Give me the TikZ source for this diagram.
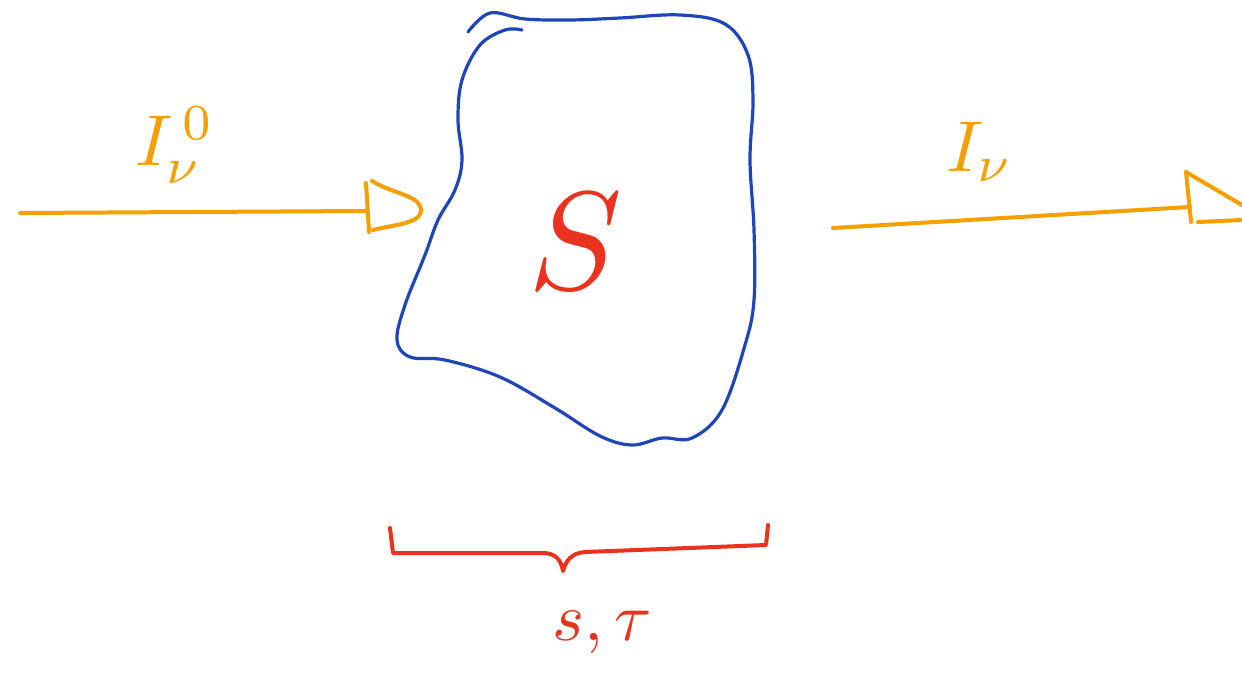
\documentclass[tikz,border=0pt]{standalone}
\begin{document}
\begin{tikzpicture}[x=0.5pt,y=-0.5pt,line cap=round,line join=round]
\definecolor{pen-orange}{RGB}{245,160,0}
\definecolor{pen-blue}{RGB}{30,70,185}
\definecolor{pen-red}{RGB}{235,50,30}
\tikzset{
  orangepen/.style={draw=pen-orange,line width=2pt},
  bluepen/.style={draw=pen-blue,line width=1.6pt},
  redpen/.style={draw=pen-red,line width=2pt},
  lbl/.style={text=pen-orange,inner sep=0pt},
  rlbl/.style={text=pen-red,inner sep=0pt},
}
\useasboundingbox (0,0) rectangle (1242,674);
% blob
\draw[bluepen] plot[smooth,tension=0.6] coordinates {
 (468,32) (490,13) (525,19) (570,20) (620,18) (680,15) (725,24) (748,55) (753,100)
 (750,160) (754,230) (754,300) (745,345) (722,410) (692,438) (662,438) (632,445)
 (600,436) (555,408) (500,377) (445,360) (410,357) (397,340) (405,305) (425,255)
 (438,220) (455,190) (462,160) (458,120) (462,80) (480,45) (505,30) (522,30)};
% left arrow
\coordinate (la) at (20,213);
\coordinate (lb) at (367,211);
\draw[orangepen] (la) -- (lb);
\draw[orangepen] (366,183) -- (369,232);
\draw[orangepen] (372,181) .. controls (395,195) and (422,195) .. (421,212)
  .. controls (418,224) and (392,225) .. (373,230);
% right arrow
\coordinate (ra) at (833,228);
\coordinate (rb) at (1190,207);
\draw[orangepen] (ra) -- (rb);
\draw[orangepen] (1186,172) -- (1191,222);
\draw[orangepen] (1186,172) -- (1242,205);
\draw[orangepen] (1198,222) -- (1242,220);
% labels
\node[lbl] (i0) at (175,145) {\scalebox{3.6}{$I_\nu^{\,0}$}};
\node[lbl] (i1) at (980,152) {\scalebox{3.6}{$I_\nu$}};
\node[rlbl] (S) at (575,242) {\scalebox{7}{$S$}};
% brace
\draw[redpen] (390,528) -- (393,553) -- (545,553)
  .. controls (556,554) and (561,560) .. (563,571)
  .. controls (566,560) and (572,553) .. (585,552)
  -- (766,545) -- (768,525);
\node[rlbl] (st) at (602,632) {\scalebox{3.4}{$s,\tau$}};
\end{tikzpicture}
\end{document}
